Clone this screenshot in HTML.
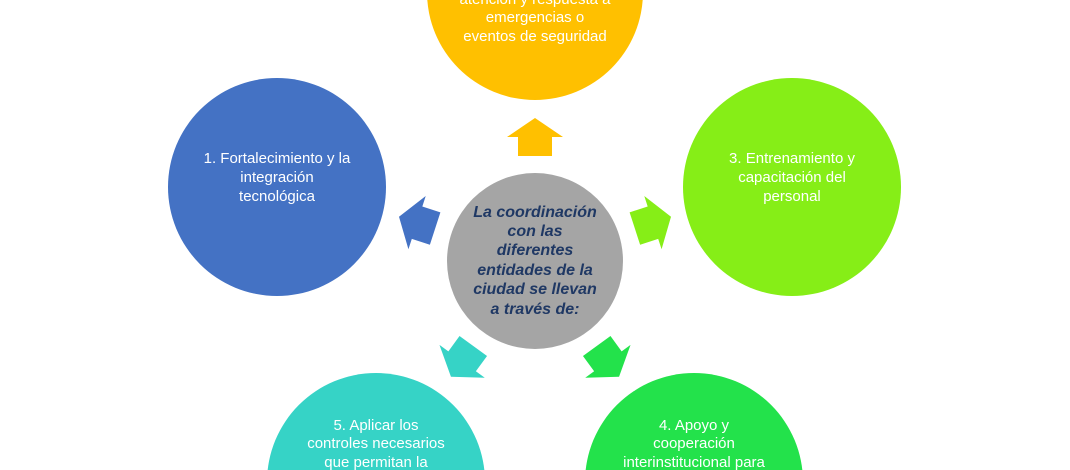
<!DOCTYPE html>
<html><head><meta charset="utf-8"><style>
html,body{margin:0;padding:0;background:#fff;width:1070px;height:470px;overflow:hidden}
svg{display:block;overflow:hidden}
svg text{font-family:"Liberation Sans",sans-serif}
</style></head><body>
<svg width="1070" height="470" viewBox="0 0 1070 470" xmlns="http://www.w3.org/2000/svg">
<defs><clipPath id="c"><rect x="0" y="0" width="1070" height="470"/></clipPath></defs>
<g clip-path="url(#c)">
<circle cx="535" cy="-8" r="108" fill="#ffc000"/>
<circle cx="277" cy="187" r="109" fill="#4472c4"/>
<circle cx="792" cy="187" r="109" fill="#86ee17"/>
<circle cx="376" cy="482" r="109" fill="#36d3c6"/>
<circle cx="694" cy="482" r="109" fill="#23e24b"/>
<circle cx="535" cy="261" r="88" fill="#a5a5a5"/>
<g transform="translate(535,261)">
<polygon points="0,-143 28,-124 17,-124 17,-105 -17,-105 -17,-124 -28,-124" fill="#ffc000"/>
<polygon points="0,-143 28,-124 17,-124 17,-105 -17,-105 -17,-124 -28,-124" fill="#4472c4" transform="rotate(-72)"/>
<polygon points="0,-143 28,-124 17,-124 17,-105 -17,-105 -17,-124 -28,-124" fill="#86ee17" transform="rotate(72)"/>
<polygon points="0,-143 28,-124 17,-124 17,-105 -17,-105 -17,-124 -28,-124" fill="#23e24b" transform="rotate(144)"/>
<polygon points="0,-143 28,-124 17,-124 17,-105 -17,-105 -17,-124 -28,-124" fill="#36d3c6" transform="rotate(-144)"/>
</g>
<g fill="#fff" font-size="15" text-anchor="middle">
<text x="535" y="4">atención y respuesta a</text>
<text x="535" y="22">emergencias o</text>
<text x="535" y="41">eventos de seguridad</text>
<text x="277" y="163">1. Fortalecimiento y la</text>
<text x="277" y="182">integración</text>
<text x="277" y="201">tecnológica</text>
<text x="792" y="163">3. Entrenamiento y</text>
<text x="792" y="182">capacitación del</text>
<text x="792" y="201">personal</text>
<text x="376" y="430">5. Aplicar los</text>
<text x="376" y="448">controles necesarios</text>
<text x="376" y="467">que permitan la</text>
<text x="694" y="430">4. Apoyo y</text>
<text x="694" y="448">cooperación</text>
<text x="694" y="467">interinstitucional para</text>
</g>
<g fill="#1f3864" font-size="16" font-weight="bold" font-style="italic" text-anchor="middle">
<text x="535" y="217">La coordinación</text>
<text x="535" y="236">con las</text>
<text x="535" y="255">diferentes</text>
<text x="535" y="275">entidades de la</text>
<text x="535" y="294">ciudad se llevan</text>
<text x="535" y="314">a través de:</text>
</g>
</g>
</svg>
</body></html>
